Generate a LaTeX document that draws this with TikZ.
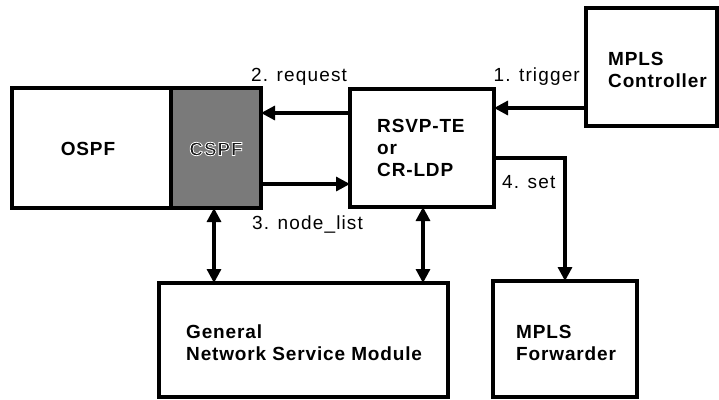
\documentclass[tikz,border=0pt]{standalone}
\usepackage{fontspec}
\setmainfont{Liberation Sans}
\usetikzlibrary{arrows.meta}
% outlined lettering: fill dark, stroke white
\newcommand\haloword[1]{\special{pdf:code q 2 Tr 0.8 w 1 1 1 RG 0.1 0.1 0.1 rg}#1\special{pdf:code Q}}
\begin{document}
\begin{tikzpicture}[x=1pt,y=-1pt,
  box/.style={draw=black,line width=3.2pt},
  boxtext/.style={font=\fontsize{19}{22}\selectfont\bfseries\addfontfeatures{LetterSpace=4.5},align=left,inner sep=0pt},
  lbl/.style={font=\fontsize{19}{22}\selectfont\addfontfeatures{LetterSpace=6},inner sep=0pt},
  conn/.style={line width=3.2pt,-{Triangle[length=14pt,width=14pt]}},
  both/.style={line width=3.2pt,{Triangle[length=14pt,width=14pt]}-{Triangle[length=14pt,width=14pt]}}]
\useasboundingbox (0,0) rectangle (719,399);

% CSPF: shaded part of the routing block
\fill[black!52] (171,88) rectangle (261,208);

% boxes
\draw[box] (12,88) rectangle (261,208);
\draw[box] (171,88) -- (171,208);
\node (ospf) [boxtext] at (88,149) {OSPF};
\node (cspf) [boxtext] at (216,149) {\haloword{CSPF}};

\draw[box] (350,89) rectangle (494,207);
\node (rsvp) [boxtext,anchor=north west] at (377,119) {RSVP-TE\\or\\CR-LDP};

\draw[box] (586,8) rectangle (717,126);
\node (ctrl) [boxtext,anchor=north west] at (608,52) {MPLS\\Controller};

\draw[box] (159,283) rectangle (448,397);
\node (gnsm) [boxtext,anchor=north west] at (186,325) {General\\Network Service Module};

\draw[box] (493,281) rectangle (637,397);
\node (fwd) [boxtext,anchor=north west] at (516,325) {MPLS\\Forwarder};

% connectors
\coordinate (ctrlW) at (586,108);
\coordinate (rsvpTr) at (494,108);
\draw[conn] (ctrlW) -- (rsvpTr);
\node (l1) [lbl,anchor=base east] at (580,81) {1. trigger};

\coordinate (rsvpReq) at (350,113);
\coordinate (cspfReq) at (261,113);
\draw[conn] (rsvpReq) -- (cspfReq);
\node (l2) [lbl,anchor=base west] at (251,81) {2. request};

\coordinate (cspfNl) at (261,184);
\coordinate (rsvpNl) at (350,184);
\draw[conn] (cspfNl) -- (rsvpNl);
\node (l3) [lbl,anchor=base west] at (252,229) {3. node\_list};

\coordinate (rsvpSet) at (494,158);
\coordinate (setBend) at (565,158);
\coordinate (fwdN) at (565,281);
\draw[conn,line join=miter] (rsvpSet) -- (setBend) -- (fwdN);
\node (l4) [lbl,anchor=base west] at (502,188) {4. set};

\coordinate (cspfB) at (214,208);
\coordinate (gnsmA) at (214,283);
\coordinate (rsvpB) at (423,207);
\coordinate (gnsmB) at (423,283);
\draw[both] (cspfB) -- (gnsmA);
\draw[both] (rsvpB) -- (gnsmB);
\end{tikzpicture}
\end{document}
